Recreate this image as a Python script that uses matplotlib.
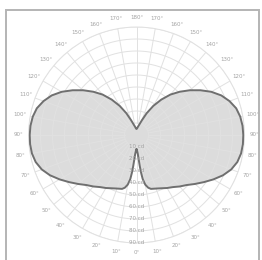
import numpy as np
import matplotlib
matplotlib.use('Agg')
import matplotlib.pyplot as plt
from matplotlib.patches import Rectangle

# Luminous intensity distribution (symmetric), gamma angle in degrees -> candela
gamma_deg = [0, 2, 4, 5, 6, 7, 8, 10, 12.5, 15, 20, 25, 30, 35, 40, 45, 50, 55,
             60, 65, 70, 75, 80, 85, 90, 95, 100, 105, 110, 115, 120, 125, 130,
             135, 140, 145, 150, 155, 160, 165, 170, 175, 180]
candela = [12, 13, 16, 20, 26, 32, 37, 42, 45, 46.5, 47.5, 49, 51, 53, 56, 59,
           63.5, 68.5, 74, 79.5, 84, 87, 88.5, 89, 89, 88.7, 87.8, 86, 82.5,
           78, 72, 65, 58, 51, 44, 36, 28, 20, 13, 9, 7, 5.5, 5]

angle_ticks = list(range(0, 360, 10))
angle_labels = [f"{a if a <= 180 else 360 - a}°" for a in angle_ticks]
radial_ticks = [10, 20, 30, 40, 50, 60, 70, 80, 90]
radial_labels = [f"{r} cd" for r in radial_ticks]

grid_color = '#e1e1e1'
label_color = '#a3a3a3'

fig = plt.figure(figsize=(2.62, 2.60), dpi=100)
fig.patch.set_facecolor('white')
# frame
fig.add_artist(Rectangle((5.5 / 262, -0.05), (258.5 - 5.5) / 262, 1.05 - 9.5 / 260,
                         transform=fig.transFigure, fill=False,
                         edgecolor='#b4b4b4', linewidth=1.4))

ax = fig.add_axes([0.1088, 0.0654, 0.8244, 0.8308], projection='polar')
ax.set_theta_zero_location('S')
ax.set_ylim(0, 90)
ax.grid(False)
ax.set_xticks([])
ax.set_yticks([])
ax.spines['polar'].set_color(grid_color)
ax.spines['polar'].set_linewidth(0.7)

g = np.deg2rad(np.array(gamma_deg, dtype=float))
c = np.array(candela, dtype=float)
theta = np.concatenate([g, 2 * np.pi - g[::-1]])
r = np.concatenate([c, c[::-1]])

ax.fill(theta, r, facecolor='#dcdcdc', edgecolor='none', zorder=1)

# grid rings and spokes
circ = np.linspace(0, 2 * np.pi, 361)
for rv in radial_ticks:
    ax.plot(circ, np.full_like(circ, rv), color=grid_color, lw=0.7, zorder=2)
for a in angle_ticks:
    t = np.deg2rad(a)
    ax.plot([t, t], [radial_ticks[0], radial_ticks[-1]], color=grid_color,
            lw=0.7, zorder=2)

ax.plot(theta, r, color='#6f6f6f', lw=1.4, zorder=3, solid_joinstyle='round')

for a, lab in zip(angle_ticks, angle_labels):
    ax.text(np.deg2rad(a), 98.3, lab, ha='center', va='center', fontsize=4.0,
            color=label_color, clip_on=False)
for rv, lab in zip(radial_ticks, radial_labels):
    ax.text(0, rv, lab, ha='center', va='center', fontsize=4.0,
            color=label_color, zorder=4)

fig.savefig('out.png', dpi=100)
